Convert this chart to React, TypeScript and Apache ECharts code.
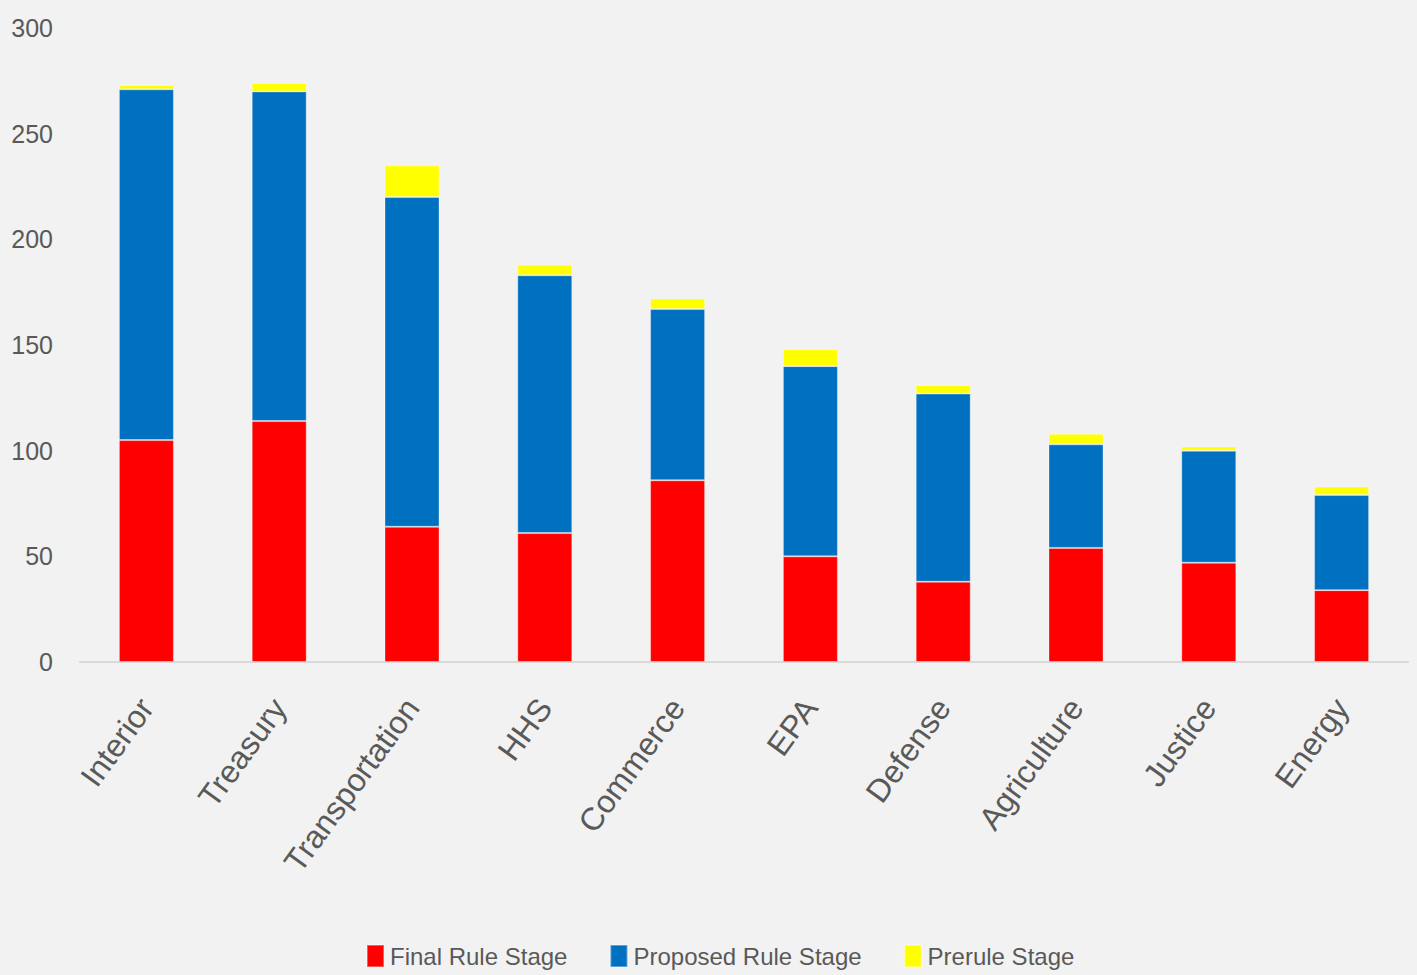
import React, { useEffect, useRef } from "react";
import * as echarts from "echarts";

const categories = ["Interior", "Treasury", "Transportation", "HHS", "Commerce", "EPA", "Defense", "Agriculture", "Justice", "Energy"];
const finalRule = [105, 114, 64, 61, 86, 50, 38, 54, 47, 34];
const proposedRule = [166, 156, 156, 122, 81, 90, 89, 49, 53, 45];
const preruleStage = [2, 4, 15, 5, 5, 8, 4, 5, 2, 4];
const seriesNames = ["Final Rule Stage", "Proposed Rule Stage", "Prerule Stage"];
const colors = ["#ff0000", "#0070c0", "#ffff00"];

const FONT = "'Liberation Sans Narrow', 'Arial Narrow', 'Liberation Sans', sans-serif";

export default function App() {
  const ref = useRef<HTMLDivElement>(null);
  useEffect(() => {
    document.body.style.margin = "0";
    const chart = echarts.init(ref.current!, null, { renderer: "svg" });
    const data = [finalRule, proposedRule, preruleStage];
    chart.setOption({
      animation: false,
      backgroundColor: "#f2f2f2",
      textStyle: { fontFamily: FONT },
      grid: { left: 80, right: 9, top: 28, bottom: 313, containLabel: false },
      legend: {
        top: 939,
        left: 361,
        itemWidth: 17,
        itemHeight: 22,
        itemGap: 42,
        icon: "rect",
        textStyle: { fontSize: 24, color: "#595959", fontFamily: FONT, padding: [0, 0, 0, 1] },
        data: seriesNames,
      },
      xAxis: {
        type: "category",
        data: categories,
        axisLine: { show: true, lineStyle: { color: "#d9d9d9", width: 2 } },
        axisTick: { show: false },
        axisLabel: { rotate: 54, margin: 40, fontSize: 32, color: "#595959", fontFamily: FONT, interval: 0 },
      },
      yAxis: {
        type: "value",
        min: 0,
        max: 300,
        interval: 50,
        axisLine: { show: false },
        axisTick: { show: false },
        splitLine: { show: false },
        axisLabel: { margin: 27, fontSize: 25, color: "#595959", fontFamily: FONT },
      },
      series: seriesNames.map((name, i) => ({
        name,
        type: "bar",
        stack: "total",
        barWidth: 55,
        data: data[i],
        itemStyle: { color: colors[i], borderColor: "rgba(255,255,255,0.35)", borderWidth: 1 },
      })),
    });
    return () => chart.dispose();
  }, []);
  return <div ref={ref} style={{ position: "fixed", left: 0, top: 0, width: 1417, height: 975 }} />;
}
